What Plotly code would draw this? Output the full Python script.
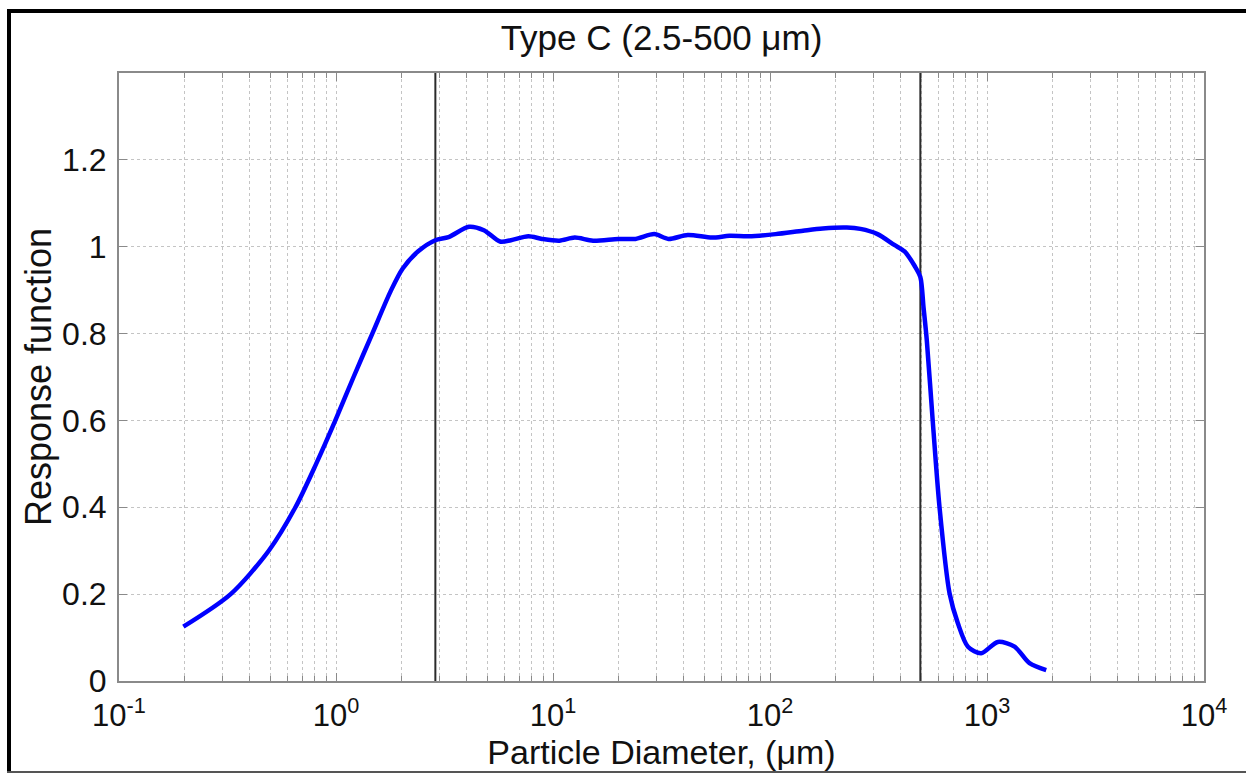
import plotly.graph_objects as go

# ---- data ----
diameter_um = [0.198, 0.327, 0.49, 0.65, 0.81, 0.993, 1.205, 1.47, 1.795, 2.03, 2.4, 2.87,
               3.3, 4.1, 4.8, 5.7, 6.4, 7.7, 8.9, 10.7, 12.6, 15.3, 20.0, 24.0, 29.3,
               34.0, 41.8, 54.0, 65.0, 79.8, 106, 142, 175, 226, 261, 313, 374, 417,
               465, 493, 510, 528, 562, 604, 672, 734, 817, 940, 1122, 1340, 1570, 1875]
response = [0.125, 0.200, 0.300, 0.400, 0.500, 0.600, 0.700, 0.800, 0.900, 0.950, 0.990, 1.015,
            1.022, 1.046, 1.038, 1.012, 1.015, 1.024, 1.018, 1.014, 1.021, 1.014, 1.018, 1.018, 1.029,
            1.018, 1.027, 1.021, 1.025, 1.024, 1.029, 1.037, 1.042, 1.044, 1.041, 1.029, 1.004, 0.989,
            0.955, 0.930, 0.860, 0.784, 0.600, 0.401, 0.202, 0.133, 0.079, 0.064, 0.090, 0.079, 0.041, 0.025]
cutoffs_um = [2.87, 493]
x_tickvals = [0.1, 1, 10, 100, 1000, 10000]
x_ticktext = ["10<sup>-1</sup>", "10<sup>0</sup>", "10<sup>1</sup>", "10<sup>2</sup>",
              "10<sup>3</sup>", "10<sup>4</sup>"]
y_tickvals = [0, 0.2, 0.4, 0.6, 0.8, 1.0, 1.2]
title_text = "Type C (2.5-500 μm)"
x_title = "Particle Diameter, (μm)"
y_title = "Response function"

# ---- layout geometry ----
W, H = 1246, 774
L, R, T, B = 119, 42, 73, 93
pw, ph = W - L - R, H - T - B


def px_x(p):
    return (p - L) / pw


def px_y(p):
    return (H - B - p) / ph


FONT = "Liberation Sans, Arial, Helvetica, sans-serif"
GRID = "#c4c4c4"
AXIS = "#8a8a8a"

fig = go.Figure()

for c in cutoffs_um:
    fig.add_trace(go.Scatter(x=[c, c], y=[0, 1.4], mode="lines",
                             line=dict(color="#2b2b2b", width=2),
                             showlegend=False, hoverinfo="skip"))

fig.add_trace(go.Scatter(x=diameter_um, y=response, mode="lines",
                         line=dict(color="#0000ff", width=4.5, shape="spline", smoothing=0.8),
                         showlegend=False))

fig.update_layout(
    width=W, height=H,
    margin=dict(l=L, r=R, t=T, b=B, pad=0),
    paper_bgcolor="white", plot_bgcolor="white",
    font=dict(family=FONT, color="#111111"),
    title=dict(text=title_text, x=px_x((L + W - R) / 2), xref="paper",
               xanchor="center", y=1 - 38 / H, yanchor="middle",
               font=dict(size=35, family=FONT, color="#111111")),
    showlegend=False,
)

fig.update_xaxes(
    type="log", range=[-1, 4],
    tickvals=x_tickvals, ticktext=x_ticktext,
    tickfont=dict(size=31, family=FONT, color="#111111"),
    ticks="inside", ticklen=8, tickcolor=AXIS, tickwidth=1,
    showline=True, linecolor=AXIS, linewidth=2, mirror="ticks",
    showgrid=True, gridcolor=GRID, griddash="dot", gridwidth=1,
    minor=dict(dtick="D1", ticks="inside", ticklen=5, tickcolor=AXIS,
               showgrid=True, gridcolor=GRID, griddash="dot", gridwidth=1),
    zeroline=False,
    title=dict(text=x_title, font=dict(size=34, family=FONT, color="#111111"), standoff=2),
    ticklabelstandoff=6,
)

fig.update_yaxes(
    range=[0, 1.4],
    tickvals=y_tickvals,
    tickfont=dict(size=32, family=FONT, color="#111111"),
    ticks="inside", ticklen=8, tickcolor=AXIS, tickwidth=1,
    showline=True, linecolor=AXIS, linewidth=2, mirror="ticks",
    showgrid=True, gridcolor=GRID, griddash="dot", gridwidth=1,
    zeroline=False,
    title=dict(text=y_title, font=dict(size=36, family=FONT, color="#111111"), standoff=0),
    ticklabelstandoff=4,
)

# outer frame of the original figure
fig.add_shape(type="line", xref="paper", yref="paper",
              x0=px_x(7), x1=px_x(W + 5), y0=px_y(11), y1=px_y(11),
              line=dict(color="black", width=4))
fig.add_shape(type="line", xref="paper", yref="paper",
              x0=px_x(9), x1=px_x(9), y0=px_y(9), y1=px_y(773),
              line=dict(color="black", width=4))
fig.add_shape(type="line", xref="paper", yref="paper",
              x0=px_x(7), x1=px_x(W + 5), y0=px_y(772), y1=px_y(772),
              line=dict(color="#555555", width=2))

fig.write_html("out.html", config={"displayModeBar": False},
               post_script="document.body.style.margin='0';document.body.style.overflow='hidden';")
